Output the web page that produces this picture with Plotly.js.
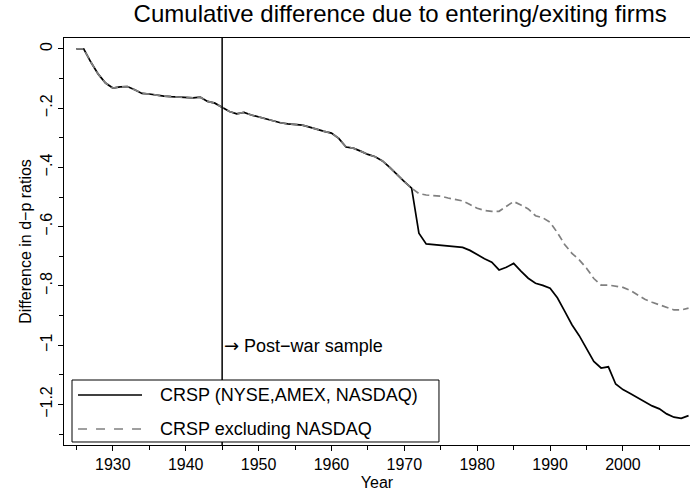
<!DOCTYPE html>
<html>
<head>
<meta charset="utf-8">
<script src="https://cdn.plot.ly/plotly-3.0.1.min.js"></script>
<style>html,body{margin:0;padding:0;background:#fff;}#chart{width:690px;height:494px;}</style>
</head>
<body>
<div id="chart"></div>
<script>
const years = [];
for (let y = 1925; y <= 2009; y++) years.push(y);

const crspAll = [
  0, 0, -0.045, -0.085, -0.115, -0.132, -0.128, -0.127, -0.138, -0.150,
  -0.152, -0.156, -0.159, -0.161, -0.162, -0.165, -0.165, -0.163, -0.177, -0.183,
  -0.196, -0.211, -0.219, -0.214, -0.223, -0.230, -0.237, -0.243, -0.249, -0.253,
  -0.254, -0.257, -0.264, -0.272, -0.278, -0.284, -0.302, -0.331, -0.335, -0.345,
  -0.356, -0.364, -0.378, -0.400, -0.425, -0.448, -0.470, -0.622, -0.658, -0.660,
  -0.662, -0.664, -0.666, -0.670, -0.680, -0.695, -0.708, -0.720, -0.746, -0.737,
  -0.724, -0.750, -0.774, -0.791, -0.798, -0.808, -0.840, -0.885, -0.931, -0.968,
  -1.010, -1.055, -1.077, -1.073, -1.131, -1.150, -1.163, -1.178, -1.192, -1.205,
  -1.215, -1.232, -1.243, -1.247, -1.238
];

const crspExNasdaq = [
  0, 0, -0.045, -0.085, -0.115, -0.132, -0.128, -0.127, -0.138, -0.150,
  -0.152, -0.156, -0.159, -0.161, -0.162, -0.165, -0.165, -0.163, -0.177, -0.183,
  -0.196, -0.211, -0.219, -0.214, -0.223, -0.230, -0.237, -0.243, -0.249, -0.253,
  -0.254, -0.257, -0.264, -0.272, -0.278, -0.284, -0.302, -0.331, -0.335, -0.345,
  -0.356, -0.364, -0.378, -0.400, -0.425, -0.448, -0.470, -0.488, -0.493, -0.495,
  -0.497, -0.503, -0.508, -0.513, -0.525, -0.538, -0.545, -0.548, -0.548, -0.530,
  -0.515, -0.527, -0.540, -0.563, -0.570, -0.585, -0.620, -0.660, -0.690, -0.712,
  -0.740, -0.775, -0.797, -0.797, -0.800, -0.805, -0.815, -0.830, -0.845, -0.855,
  -0.864, -0.873, -0.881, -0.881, -0.875
];

const seriesNames = ["CRSP (NYSE,AMEX, NASDAQ)", "CRSP excluding NASDAQ"];
const seriesColors = ["#000000", "#808080"];
const seriesDash = ["solid", "7px,4px"];
const xTickVals = [1930, 1940, 1950, 1960, 1970, 1980, 1990, 2000];
const xTickText = ["1930", "1940", "1950", "1960", "1970", "1980", "1990", "2000"];
const yTickVals = [0, -0.2, -0.4, -0.6, -0.8, -1, -1.2];
const yTickText = ["0", "\u2212.2", "\u2212.4", "\u2212.6", "\u2212.8", "\u22121", "\u22121.2"];
const postWarYear = 1945;
const postWarLabel = "<span style=\"font-family:DejaVu Sans\">\u2192</span> Post\u2212war sample";
const postWarLabelY = -1.0;

const font = "Liberation Sans, Arial, sans-serif";

const traces = [
  {x: years, y: crspAll, name: seriesNames[0], type: "scatter", mode: "lines",
   line: {color: seriesColors[0], width: 1.7, dash: seriesDash[0]}},
  {x: years, y: crspExNasdaq, name: seriesNames[1], type: "scatter", mode: "lines",
   line: {color: seriesColors[1], width: 1.7, dash: seriesDash[1]}}
];

// legend box (paper coordinates inside plot area)
const legBox = {x0: 0.0128, x1: 0.599, y0: 0.0074, y1: 0.1597};
const legRowsY = [0.1229, 0.0393];
const legLineX = [0.0224, 0.1246];
const legTextX = 0.1502;

const shapes = [
  {type: "line", xref: "x", yref: "paper", x0: postWarYear, x1: postWarYear,
   y0: 0, y1: 1, line: {color: "#000", width: 1.5}},
  {type: "rect", xref: "paper", yref: "paper", x0: legBox.x0, x1: legBox.x1,
   y0: legBox.y0, y1: legBox.y1, fillcolor: "#fff", line: {color: "#000", width: 1}}
];
const annotations = [
  {x: postWarYear, y: postWarLabelY, xref: "x", yref: "y",
   text: postWarLabel, showarrow: false, xanchor: "left", yanchor: "middle",
   font: {size: 18}}
];
seriesNames.forEach((nm, i) => {
  shapes.push({type: "line", xref: "paper", yref: "paper", x0: legLineX[0], x1: legLineX[1],
               y0: legRowsY[i], y1: legRowsY[i],
               line: {color: seriesColors[i], width: 1.7, dash: seriesDash[i] === "solid" ? "solid" : "dash"}});
  annotations.push({x: legTextX, y: legRowsY[i], xref: "paper", yref: "paper", text: nm,
                    showarrow: false, xanchor: "left", yanchor: "middle", font: {size: 18}});
});

const layout = {
  width: 690, height: 494,
  margin: {l: 64, r: 0, t: 38, b: 49},
  paper_bgcolor: "#fff", plot_bgcolor: "#fff",
  font: {family: font, color: "#000", size: 16},
  showlegend: false,
  title: {text: "Cumulative difference due to entering/exiting firms",
          font: {family: font, size: 24, color: "#000"},
          x: 0.58, xanchor: "center", y: 0.99, yanchor: "top"},
  xaxis: {range: [1923.3, 2009.2], showgrid: false, zeroline: false,
          showline: true, linecolor: "#000", linewidth: 1, mirror: true,
          ticks: "outside", ticklen: 5, tickcolor: "#000",
          tickvals: xTickVals, ticktext: xTickText,
          minor: {dtick: 5, tick0: 1925, ticks: "outside", ticklen: 4, tickcolor: "#000"},
          tickfont: {size: 16},
          title: {text: "Year", font: {size: 16}, standoff: 4}},
  yaxis: {range: [-1.337, 0.037], showgrid: false, zeroline: false,
          showline: true, linecolor: "#000", linewidth: 1, mirror: false,
          ticks: "outside", ticklen: 5, tickcolor: "#000",
          tickvals: yTickVals, ticktext: yTickText, tickangle: -90,
          minor: {dtick: 0.1, tick0: 0, ticks: "outside", ticklen: 4, tickcolor: "#000"},
          tickfont: {size: 16},
          title: {text: "Difference in d\u2212p ratios", font: {size: 16}, standoff: 1}},
  shapes: shapes,
  annotations: annotations
};

Plotly.newPlot("chart", traces, layout, {displayModeBar: false, staticPlot: true});
</script>
</body>
</html>
